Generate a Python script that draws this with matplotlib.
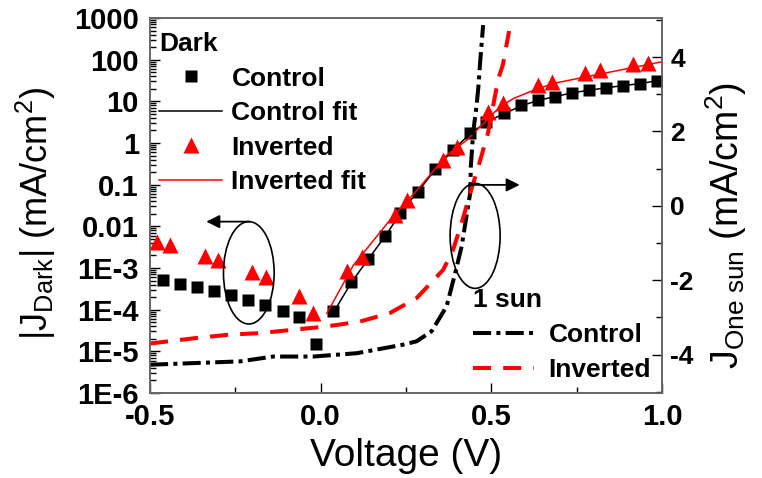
import matplotlib
matplotlib.use("Agg")
import matplotlib.pyplot as plt
from matplotlib.patches import Ellipse
from matplotlib.ticker import FixedLocator, FixedFormatter, LogLocator, NullFormatter, MultipleLocator

plt.rcParams['font.family'] = ['Liberation Sans', 'DejaVu Sans']
plt.rcParams['mathtext.fontset'] = 'custom'
plt.rcParams['mathtext.rm'] = 'Liberation Sans'
plt.rcParams['mathtext.it'] = 'Liberation Sans:italic'
plt.rcParams['mathtext.bf'] = 'Liberation Sans:bold'

# ---- dark J-V, control device (mA/cm^2, absolute value) ----
v_ctrl = [-0.463, -0.412, -0.361, -0.312, -0.263, -0.213, -0.163, -0.111, -0.063, -0.014,
          0.037, 0.088, 0.140, 0.189, 0.232, 0.286, 0.335, 0.389, 0.438, 0.484,
          0.537, 0.586, 0.638, 0.687, 0.736, 0.786, 0.836, 0.887, 0.936, 0.985]
j_ctrl = [5.1e-4, 4.2e-4, 3.5e-4, 2.75e-4, 2.2e-4, 1.7e-4, 1.3e-4, 9.5e-5, 6.6e-5, 1.5e-5,
          9.3e-5, 4.5e-4, 1.66e-3, 5.9e-3, 0.0214, 0.068, 0.234, 0.676, 1.70, 3.24,
          5.13, 8.13, 10.7, 12.9, 16.2, 18.6, 21.4, 23.4, 26.3, 30.9]

v_ctrl_fit = [0.04, 0.09, 0.14, 0.19, 0.24, 0.29, 0.34, 0.39, 0.44, 0.49,
              0.54, 0.59, 0.64, 0.74, 0.84, 0.94, 1.0]
j_ctrl_fit = [9.3e-5, 4.5e-4, 1.66e-3, 5.9e-3, 0.025, 0.076, 0.26, 0.71, 1.74, 3.3,
              5.2, 7.9, 10.7, 16.2, 21.4, 26.9, 33.0]

# ---- dark J-V, inverted device ----
v_inv = [-0.480, -0.441, -0.339, -0.300, -0.202, -0.160, -0.063, -0.022, 0.076, 0.120,
         0.218, 0.254, 0.359, 0.399, 0.491, 0.535, 0.638, 0.677, 0.775, 0.818,
         0.916, 0.958]
j_inv = [4.3e-3, 3.5e-3, 1.95e-3, 1.55e-3, 8.1e-4, 6.0e-4, 2.1e-4, 8.1e-5, 8.5e-4, 1.86e-3,
         0.0186, 0.0427, 0.389, 0.813, 5.6, 8.9, 24.5, 28.8, 46.8, 55.0,
         79.0, 85.0]

v_inv_fit = [0.018, 0.096, 0.203, 0.291, 0.369, 0.428, 0.487, 0.525, 0.565, 0.613,
             0.682, 0.779, 0.877, 1.0]
j_inv_fit = [8.1e-5, 1.17e-3, 0.0141, 0.089, 0.51, 1.17, 3.55, 7.4, 11.7, 17.0,
             26.9, 38.9, 56.2, 89.0]

# ---- J-V under one sun (mA/cm^2) ----
v_sun_ctrl = [-0.5, -0.236, -0.139, -0.022, 0.106, 0.242, 0.281, 0.325, 0.369, 0.394,
              0.413, 0.438, 0.440, 0.447, 0.457, 0.462, 0.467, 0.476]
j_sun_ctrl = [-4.27, -4.18, -4.05, -4.05, -3.96, -3.73, -3.64, -3.37, -2.70, -1.81,
              -1.09, 0.34, 1.07, 1.99, 2.71, 3.19, 3.84, 4.86]

v_sun_inv = [-0.5, -0.363, -0.266, -0.178, -0.080, 0.018, 0.115, 0.203, 0.281, 0.359,
             0.388, 0.413, 0.438, 0.461, 0.490, 0.520, 0.534, 0.552]
j_sun_inv = [-3.70, -3.55, -3.46, -3.42, -3.33, -3.24, -3.11, -2.88, -2.48, -1.72,
             -1.18, -0.46, 0.34, 1.02, 1.95, 3.40, 3.80, 4.70]

# ---- axis ticks ----
x_ticks = [-0.5, 0.0, 0.5, 1.0]
x_labels = ['-0.5', '0.0', '0.5', '1.0']
left_ticks = [1e-6, 1e-5, 1e-4, 1e-3, 1e-2, 1e-1, 1, 10, 100, 1000]
left_labels = ['1E-6', '1E-5', '1E-4', '1E-3', '0.01', '0.1', '1', '10', '100', '1000']
right_ticks = [-4, -2, 0, 2, 4]
right_labels = ['-4', '-2', '0', '2', '4']

RED = '#ff0000'
SPINE = '#666666'

fig = plt.figure(figsize=(7.62, 4.78), dpi=100)
ax = fig.add_axes([150 / 762, 85 / 478, 512 / 762, 375 / 478])
ax2 = ax.twinx()

# dark curves (left, log scale)
h_ctrl, = ax.plot(v_ctrl, j_ctrl, 's', color='k', ms=9, mec='none', zorder=3)
h_ctrl_fit, = ax.plot(v_ctrl_fit, j_ctrl_fit, '-', color='k', lw=1.1, zorder=2)
h_inv, = ax.plot(v_inv, j_inv, '^', color=RED, ms=11, mec='none', zorder=4)
h_inv_fit, = ax.plot(v_inv_fit, j_inv_fit, '-', color=RED, lw=1.1, zorder=5)

ax.set_yscale('log')
ax.set_xlim(-0.5, 1.0)
ax.set_ylim(1e-6, 1e3)

ax.xaxis.set_major_locator(FixedLocator(x_ticks))
ax.xaxis.set_major_formatter(FixedFormatter(x_labels))
ax.xaxis.set_minor_locator(MultipleLocator(0.25))
ax.yaxis.set_major_locator(FixedLocator(left_ticks))
ax.yaxis.set_major_formatter(FixedFormatter(left_labels))
ax.yaxis.set_minor_locator(LogLocator(base=10, subs=range(2, 10), numticks=20))
ax.yaxis.set_minor_formatter(NullFormatter())

ax.tick_params(axis='both', which='both', direction='in', colors='k', width=1.0)
ax.tick_params(axis='both', which='major', length=7, labelsize=21)
ax.tick_params(axis='both', which='minor', length=4)
ax.tick_params(axis='x', which='major', pad=7)
ax.tick_params(axis='y', which='major', pad=8)
for lab in ax.get_xticklabels() + ax.get_yticklabels():
    lab.set_fontweight('bold')

ax.set_xlabel('Voltage (V)', fontsize=28, labelpad=5)
ax.set_ylabel('|J$_{\\mathrm{Dark}}$| (mA/cm$^{2}$)', fontsize=26)
ax.yaxis.set_label_coords(-0.18, 0.48)

# one-sun curves (right, linear scale)
h_sun_ctrl, = ax2.plot(v_sun_ctrl, j_sun_ctrl, color='k', lw=2.9,
                       linestyle=(0, (4.5, 1.3, 1.0, 1.3)), dash_capstyle='butt')
h_sun_inv, = ax2.plot(v_sun_inv, j_sun_inv, color=RED, lw=2.9,
                      linestyle=(0, (4.5, 3.0)), dash_capstyle='butt')
ax2.set_ylim(-5.03, 5.05)
ax2.yaxis.set_major_locator(FixedLocator(right_ticks))
ax2.yaxis.set_major_formatter(FixedFormatter(right_labels))
ax2.yaxis.set_minor_locator(MultipleLocator(1))
ax2.tick_params(axis='y', which='both', direction='in', colors='k', width=1.0)
ax2.tick_params(axis='y', which='major', length=7, labelsize=19, pad=6)
ax2.tick_params(axis='y', which='minor', length=4)
for lab in ax2.get_yticklabels():
    lab.set_fontweight('bold')
ax2.set_ylabel('J$_{\\mathrm{One\\ sun}}$ (mA/cm$^{2}$)', fontsize=27, rotation=90)
ax2.yaxis.set_label_coords(1.08, 0.448)

for a in (ax, ax2):
    for sp in a.spines.values():
        sp.set_color(SPINE)
        sp.set_linewidth(1.2)

# legends
legend_font = dict(weight='bold', size=19)
leg1 = ax.legend([h_ctrl, h_ctrl_fit, h_inv, h_inv_fit],
                 ['Control', 'Control fit', 'Inverted', 'Inverted fit'],
                 title='Dark', title_fontproperties=legend_font, prop=legend_font,
                 loc='upper left', bbox_to_anchor=(0.006, 0.978), frameon=False,
                 alignment='left', handlelength=2.4, handletextpad=0.35,
                 labelspacing=0.4, borderpad=0.22, borderaxespad=0, numpoints=1)
leg2 = ax2.legend([h_sun_ctrl, h_sun_inv], ['Control', 'Inverted'],
                  title='1 sun', title_fontproperties=legend_font, prop=legend_font,
                  loc='upper left', bbox_to_anchor=(0.621, 0.295), frameon=False,
                  alignment='left', handlelength=2.3, handletextpad=0.55,
                  labelspacing=0.42, borderpad=0.2, borderaxespad=0)

# ellipses with arrows pointing to the relevant axis
ax2.add_patch(Ellipse((0.193, 0.3205), 0.099, 0.273, transform=ax.transAxes,
                      fill=False, ec='k', lw=1.2, zorder=6))
ax2.add_patch(Ellipse((0.635, 0.419), 0.0977, 0.28, transform=ax.transAxes,
                      fill=False, ec='k', lw=1.2, zorder=6))
ax2.annotate('', xy=(0.110, 0.457), xytext=(0.195, 0.457), xycoords=ax.transAxes,
             textcoords=ax.transAxes,
             arrowprops=dict(arrowstyle='-|>', color='k', lw=1.3, mutation_scale=20,
                             shrinkA=0, shrinkB=0))
ax2.annotate('', xy=(0.722, 0.555), xytext=(0.625, 0.555), xycoords=ax.transAxes,
             textcoords=ax.transAxes,
             arrowprops=dict(arrowstyle='-|>', color='k', lw=1.3, mutation_scale=20,
                             shrinkA=0, shrinkB=0))

fig.savefig('out.png', dpi=100)
